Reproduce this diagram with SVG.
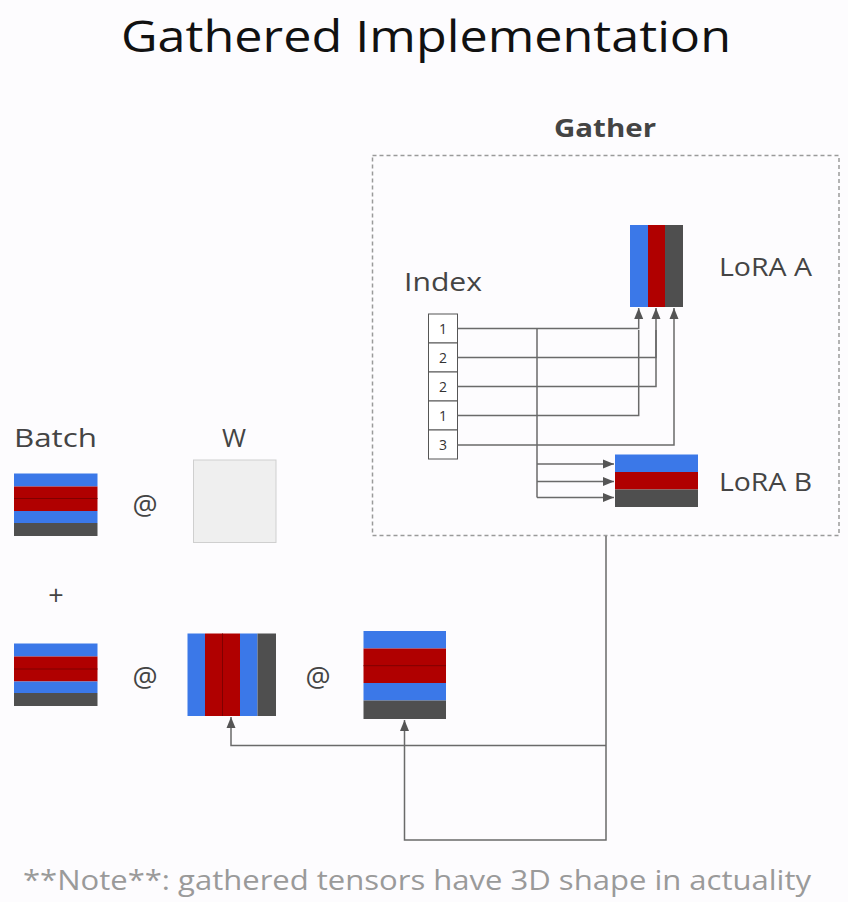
<svg xmlns="http://www.w3.org/2000/svg" width="848" height="902" viewBox="0 0 848 902">
<style>
.lbl{font-family:"Open Sans","Liberation Sans",sans-serif;fill:#444}
.num{font-family:"Open Sans","Liberation Sans",sans-serif;fill:#333;font-size:14px;text-anchor:middle}
.b{fill:#3b78e8}.r{fill:#b00000}.d{fill:#4f4f4f}
.div{stroke:#800000;stroke-width:1}
.c{fill:none;stroke:#6a6a6a;stroke-width:1.5}
.ib{fill:#fff;stroke:#555;stroke-width:1}
</style>
<defs>
<marker id="ah" markerUnits="userSpaceOnUse" markerWidth="12" markerHeight="12" viewBox="0 0 12 12" refX="11" refY="6" orient="auto">
<path d="M0,1.5 L11,6 L0,10.5 z" fill="#555"/>
</marker>
</defs>
<rect width="848" height="902" fill="#fdfcfe"/>
<text x="426" y="52" text-anchor="middle" font-family="'Open Sans','Liberation Sans',sans-serif" font-size="44" fill="#111" textLength="610" lengthAdjust="spacingAndGlyphs">Gathered Implementation</text>

<g id="gather">
<rect x="372.5" y="155.5" width="466.5" height="380" fill="none" stroke="#9a9a9a" stroke-width="1.5" stroke-dasharray="4 3"/>
<text x="605" y="137" text-anchor="middle" font-family="'Open Sans','Liberation Sans',sans-serif" font-weight="bold" font-size="25" fill="#444" textLength="102" lengthAdjust="spacingAndGlyphs">Gather</text>
</g>

<g id="index">
<text class="lbl" x="404" y="291" font-size="26" textLength="78" lengthAdjust="spacingAndGlyphs">Index</text>
<rect class="ib" x="428.5" y="314" width="29" height="29"/>
<rect class="ib" x="428.5" y="343" width="29" height="29"/>
<rect class="ib" x="428.5" y="372" width="29" height="29"/>
<rect class="ib" x="428.5" y="401" width="29" height="29"/>
<rect class="ib" x="428.5" y="430" width="29" height="29"/>
<text class="num" x="443" y="333.5">1</text>
<text class="num" x="443" y="362.5">2</text>
<text class="num" x="443" y="391.5">2</text>
<text class="num" x="443" y="420.5">1</text>
<text class="num" x="443" y="450">3</text>
</g>

<g id="loraA">
<rect class="b" x="630" y="225" width="18" height="82"/>
<rect class="r" x="648" y="225" width="17" height="82"/>
<rect class="d" x="665" y="225" width="18" height="82"/>
<text class="lbl" x="719" y="276" font-size="26" textLength="93" lengthAdjust="spacingAndGlyphs">LoRA A</text>
</g>

<g id="loraB">
<rect class="b" x="615" y="454.5" width="83" height="17.5"/>
<rect class="r" x="615" y="472" width="83" height="17.5"/>
<rect class="d" x="615" y="489.5" width="83" height="17.5"/>
<text class="lbl" x="719" y="491" font-size="26" textLength="93" lengthAdjust="spacingAndGlyphs">LoRA B</text>
</g>

<g id="batch">
<text class="lbl" x="14" y="447" font-size="26" textLength="83" lengthAdjust="spacingAndGlyphs">Batch</text>
<rect class="b" x="14" y="473.5" width="83.5" height="13"/>
<rect class="r" x="14" y="486.5" width="83.5" height="24.5"/>
<line class="div" x1="14" y1="498.5" x2="97.5" y2="498.5"/>
<rect class="b" x="14" y="511" width="83.5" height="12"/>
<rect class="d" x="14" y="523" width="83.5" height="13"/>
</g>

<g id="at1"><text class="lbl" x="145" y="515" font-size="28" text-anchor="middle">@</text></g>

<g id="w">
<text class="lbl" x="234" y="447" font-size="26" text-anchor="middle">W</text>
<rect x="193.5" y="460" width="82.5" height="82.5" fill="#efefef" stroke="#cfcfcf" stroke-width="1"/>
</g>

<g id="plus"><text class="lbl" x="56" y="605" font-size="27" text-anchor="middle">+</text></g>

<g id="batch2">
<rect class="b" x="14" y="643.5" width="83.5" height="13"/>
<rect class="r" x="14" y="656.5" width="83.5" height="25"/>
<line class="div" x1="14" y1="669" x2="97.5" y2="669"/>
<rect class="b" x="14" y="681.5" width="83.5" height="11.5"/>
<rect class="d" x="14" y="693" width="83.5" height="13"/>
</g>

<g id="at2"><text class="lbl" x="145" y="687" font-size="28" text-anchor="middle">@</text></g>

<g id="loraAg">
<rect class="b" x="187.5" y="633.5" width="17.5" height="82.5"/>
<rect class="r" x="205" y="633.5" width="35" height="82.5"/>
<line class="div" x1="222.5" y1="633.5" x2="222.5" y2="716"/>
<rect class="b" x="240" y="633.5" width="17.5" height="82.5"/>
<rect class="d" x="257.5" y="633.5" width="18.5" height="82.5"/>
</g>

<g id="at3"><text class="lbl" x="318" y="687" font-size="28" text-anchor="middle">@</text></g>

<g id="loraBg">
<rect class="b" x="363.5" y="631" width="82.5" height="17.5"/>
<rect class="r" x="363.5" y="648.5" width="82.5" height="34.5"/>
<line class="div" x1="363.5" y1="665.7" x2="446" y2="665.7"/>
<rect class="b" x="363.5" y="683" width="82.5" height="17.5"/>
<rect class="d" x="363.5" y="700.5" width="82.5" height="18.5"/>
</g>

<g id="connectors">
<path class="c" d="M457.5,328.5 H638.7 V308" marker-end="url(#ah)"/>
<path class="c" d="M457.5,357.5 H656 V308" marker-end="url(#ah)"/>
<path class="c" d="M457.5,386.5 H656 V330"/>
<path class="c" d="M457.5,415.5 H638.7 V330"/>
<path class="c" d="M457.5,445 H674 V308" marker-end="url(#ah)"/>
<path class="c" d="M537,328.5 V497.5"/>
<path class="c" d="M537,464 H614" marker-end="url(#ah)"/>
<path class="c" d="M537,481.5 H614" marker-end="url(#ah)"/>
<path class="c" d="M537,497.5 H614" marker-end="url(#ah)"/>
<path class="c" d="M606,536 V840 H404.5 V720" marker-end="url(#ah)"/>
<path class="c" d="M606,745.5 H231 V717" marker-end="url(#ah)"/>
</g>

<text x="417" y="890" text-anchor="middle" font-family="'Open Sans','Liberation Sans',sans-serif" font-size="27" fill="#9a9a9a" textLength="788" lengthAdjust="spacingAndGlyphs">**Note**: gathered tensors have 3D shape in actuality</text>
</svg>
